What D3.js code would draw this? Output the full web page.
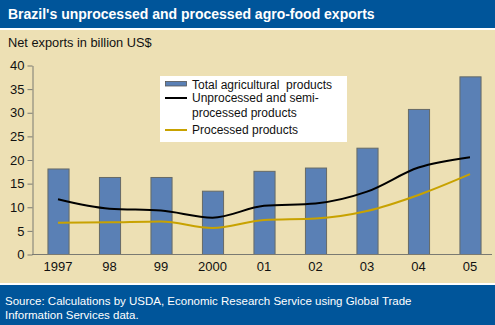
<!DOCTYPE html>
<html>
<head>
<meta charset="utf-8">
<script src="https://cdn.jsdelivr.net/npm/d3@7"></script>
<style>
  html, body { margin: 0; padding: 0; background: #fff; }
  svg { display: block; font-family: Arial, "Liberation Sans", sans-serif; }
</style>
</head>
<body>
<div id="chart"></div>
<script>
// Brazil agro-food net exports, billion US$
const years = ['1997', '98', '99', '2000', '01', '02', '03', '04', '05'];
const totalAg = [18.1, 16.3, 16.3, 13.4, 17.6, 18.3, 22.5, 30.7, 37.6];
const unprocessed = [11.7, 9.7, 9.3, 7.8, 10.3, 10.8, 13.3, 18.4, 20.6];
const processed = [6.7, 6.8, 7.0, 5.6, 7.3, 7.6, 9.2, 12.6, 17.0];
const yTicks = [0, 5, 10, 15, 20, 25, 30, 35, 40];

const W = 495, H = 325;
const BLUE = '#00559a';
const BEIGE = '#ede0b4';
const BAR = '#5a80b5';
const GOLD = '#c8a200';
const AXIS = '#7a7a72';

const svg = d3.select('#chart').append('svg')
  .attr('width', W)
  .attr('height', H);

// panels: title band, plot area, source band
svg.append('rect').attr('width', W).attr('height', H).attr('fill', '#fff');
svg.append('rect').attr('x', 0).attr('y', 0).attr('width', W).attr('height', 28).attr('fill', BLUE);
svg.append('rect').attr('x', 0).attr('y', 30).attr('width', W).attr('height', 253).attr('fill', BEIGE);
svg.append('rect').attr('x', 0).attr('y', 285).attr('width', W).attr('height', 40).attr('fill', BLUE);

svg.append('text')
  .attr('x', 8).attr('y', 19)
  .attr('font-size', 14).attr('font-weight', 'bold')
  .attr('fill', '#fff')
  .text("Brazil's unprocessed and processed agro-food exports");

svg.append('text')
  .attr('x', 8).attr('y', 46.5)
  .attr('font-size', 12.8).attr('fill', '#111')
  .text('Net exports in billion US$');

const src = svg.append('text')
  .attr('font-size', 11.5).attr('fill', '#fff');
src.append('tspan').attr('x', 5).attr('y', 305)
  .text('Source: Calculations by USDA, Economic Research Service using Global Trade');
src.append('tspan').attr('x', 5).attr('y', 319)
  .text('Information Services data.');

// scales
const y = d3.scaleLinear().domain([0, 40]).range([254.5, 65.5]);
const x = d3.scaleBand().domain(years).range([32, 496])
  .paddingInner(0.59).paddingOuter(0.3);
const cx = d => x(d) + x.bandwidth() / 2;

// bars
svg.append('g').selectAll('rect')
  .data(years)
  .join('rect')
  .attr('x', d => x(d) + 0.5)
  .attr('y', (d, i) => y(totalAg[i]))
  .attr('width', x.bandwidth())
  .attr('height', (d, i) => y(0) - y(totalAg[i]))
  .attr('fill', BAR)
  .attr('stroke', '#666a66')
  .attr('stroke-width', 1);

// lines
const line = vals => d3.line()
  .x((d, i) => cx(years[i]))
  .y(d => y(d))
  .curve(d3.curveMonotoneX)(vals);

svg.append('path').attr('d', line(unprocessed))
  .attr('fill', 'none').attr('stroke', '#000').attr('stroke-width', 2);
svg.append('path').attr('d', line(processed))
  .attr('fill', 'none').attr('stroke', GOLD).attr('stroke-width', 2);

// y axis
const yAxis = svg.append('g')
  .attr('transform', 'translate(32.5,0)')
  .call(d3.axisLeft(y).tickValues(yTicks).tickSize(5).tickSizeOuter(0).tickPadding(3));
yAxis.select('.domain').attr('stroke', AXIS);
yAxis.selectAll('.tick line').attr('stroke', AXIS);
yAxis.selectAll('.tick text')
  .attr('font-family', 'Arial, "Liberation Sans", sans-serif')
  .attr('font-size', 13).attr('fill', '#111');

// x baseline and year labels
svg.append('line')
  .attr('x1', 32).attr('x2', 492)
  .attr('y1', y(0)).attr('y2', y(0))
  .attr('stroke', AXIS).attr('stroke-width', 1.2);

svg.append('g').selectAll('text')
  .data(years)
  .join('text')
  .attr('x', d => cx(d))
  .attr('y', 271)
  .attr('text-anchor', 'middle')
  .attr('font-size', 13).attr('fill', '#111')
  .text(d => d);

// legend
const lg = svg.append('g');
lg.append('rect').attr('x', 160).attr('y', 76).attr('width', 187).attr('height', 66).attr('fill', '#fff');
lg.append('rect').attr('x', 165.5).attr('y', 81.5).attr('width', 21).attr('height', 4.5)
  .attr('fill', BAR).attr('stroke', '#555').attr('stroke-width', 0.8);
lg.append('line').attr('x1', 165).attr('x2', 187).attr('y1', 98).attr('y2', 98)
  .attr('stroke', '#000').attr('stroke-width', 2);
lg.append('line').attr('x1', 165).attr('x2', 187).attr('y1', 130).attr('y2', 130)
  .attr('stroke', GOLD).attr('stroke-width', 2);

const legendText = [
  ['Total agricultural\u00a0 products', 89],
  ['Unprocessed and semi-', 102],
  ['processed products', 117],
  ['Processed products', 134]
];
lg.selectAll('text.lab')
  .data(legendText)
  .join('text')
  .attr('class', 'lab')
  .attr('x', 192)
  .attr('y', d => d[1])
  .attr('font-size', 12).attr('fill', '#111')
  .text(d => d[0]);
</script>
</body>
</html>
